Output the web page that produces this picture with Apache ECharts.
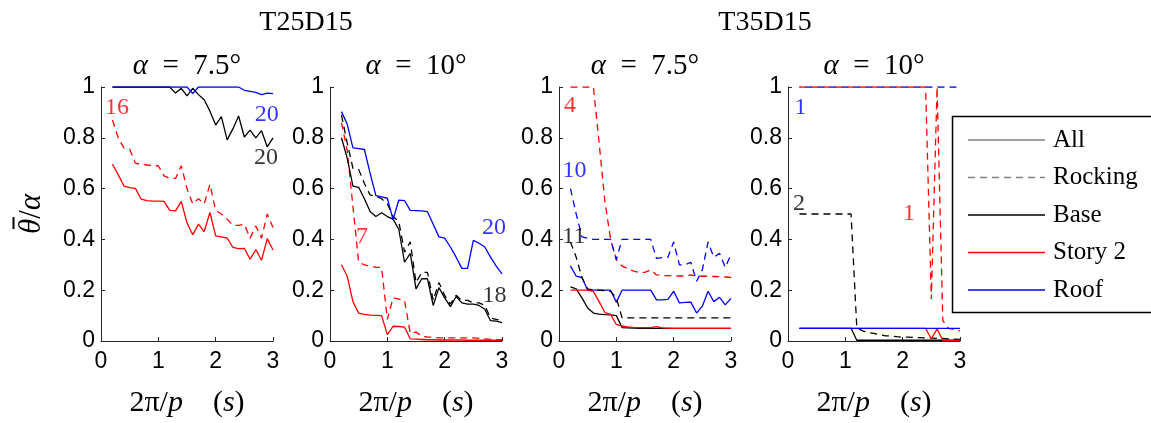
<!DOCTYPE html>
<html><head><meta charset="utf-8">
<script src="https://cdn.jsdelivr.net/npm/echarts@6/dist/echarts.min.js"></script>
<style>html,body{margin:0;padding:0;background:#fff}#c{width:1151px;height:423px}</style>
</head><body><div id="c"></div>
<script>
// ---------- DATA ----------
const periods = [0.2,0.3,0.4,0.5,0.6,0.7,0.8,0.9,1.0,1.1,1.2,1.3,1.4,1.5,1.6,1.7,1.8,1.9,2.0,2.1,2.2,2.3,2.4,2.5,2.6,2.7,2.8,2.9,3.0];
const xTicks = [0,1,2,3];
const yTicks = [0,0.2,0.4,0.6,0.8,1];
const groupTitles = ['T25D15','T35D15'];
const panelAlphas = ['7.5°','10°','7.5°','10°'];
const legendNames = ['All','Rocking','Base','Story 2','Roof'];

// T25D15, alpha = 7.5
const p1_roof_all   = [1,1,1,1,1,1,1,1,1,1,1,1,1,1,0.974,1,1,1,1,1,1,1,1,0.987,0.983,0.979,0.97,0.976,0.974];
const p1_base_all   = [1,1,1,1,1,1,1,1,1,1,1,0.976,0.995,0.965,0.995,0.97,0.95,0.905,0.85,0.883,0.792,0.835,0.886,0.803,0.83,0.80,0.828,0.764,0.80];
const p1_story2_all = [0.696,0.655,0.61,0.604,0.601,0.559,0.553,0.551,0.551,0.55,0.514,0.512,0.55,0.465,0.418,0.46,0.431,0.506,0.414,0.41,0.405,0.369,0.364,0.365,0.322,0.36,0.318,0.403,0.358];
const p1_story2_rock= [0.87,0.80,0.76,0.755,0.70,0.695,0.693,0.69,0.69,0.65,0.64,0.64,0.69,0.60,0.54,0.56,0.54,0.617,0.514,0.50,0.48,0.455,0.455,0.46,0.405,0.453,0.405,0.50,0.447];

// T25D15, alpha = 10
const p2_roof_all   = [0.903,0.854,0.76,0.757,0.754,0.66,0.572,0.567,0.562,0.478,0.555,0.553,0.514,0.513,0.512,0.509,0.46,0.41,0.405,0.37,0.33,0.286,0.286,0.396,0.385,0.37,0.33,0.295,0.264];
const p2_base_rock  = [0.89,0.78,0.68,0.675,0.62,0.575,0.57,0.56,0.54,0.49,0.47,0.35,0.39,0.23,0.27,0.27,0.16,0.23,0.18,0.145,0.18,0.16,0.16,0.15,0.15,0.14,0.09,0.085,0.08];
const p2_base_all   = [0.80,0.72,0.61,0.605,0.56,0.51,0.49,0.505,0.49,0.48,0.44,0.31,0.345,0.205,0.245,0.245,0.14,0.21,0.17,0.135,0.175,0.15,0.145,0.145,0.14,0.125,0.08,0.078,0.072];
const p2_story2_all = [0.30,0.255,0.155,0.11,0.105,0.102,0.101,0.10,0.025,0.058,0.057,0.055,0.008,0.007,0.006,0.005,0.005,0.004,0.004,0.004,0.004,0.004,0.003,0.003,0.003,0.003,0.003,0.003,0.003];
const p2_story2_rock= [0.86,0.75,0.53,0.31,0.30,0.295,0.29,0.29,0.085,0.17,0.165,0.16,0.03,0.035,0.02,0.015,0.015,0.012,0.012,0.012,0.012,0.012,0.012,0.012,0.01,0.008,0.006,0.005,0.005];

// T35D15, alpha = 7.5
const p3_story2_rock= [1,1,1,1,1,0.78,0.55,0.40,0.32,0.295,0.285,0.275,0.27,0.27,0.28,0.26,0.258,0.257,0.256,0.256,0.256,0.26,0.255,0.255,0.255,0.254,0.253,0.252,0.25];
const p3_roof_rock  = [0.6,0.5,0.41,0.405,0.40,0.40,0.40,0.40,0.32,0.40,0.40,0.40,0.40,0.40,0.40,0.325,0.328,0.33,0.39,0.30,0.30,0.31,0.235,0.28,0.39,0.33,0.345,0.29,0.34];
const p3_roof_all   = [0.296,0.255,0.25,0.2,0.2,0.2,0.2,0.2,0.153,0.2,0.2,0.2,0.2,0.2,0.2,0.162,0.162,0.164,0.196,0.15,0.152,0.153,0.11,0.137,0.196,0.155,0.172,0.142,0.168];
const p3_base_rock  = [0.39,0.33,0.25,0.205,0.2,0.2,0.198,0.195,0.17,0.091,0.091,0.091,0.091,0.091,0.091,0.091,0.091,0.091,0.091,0.091,0.091,0.091,0.091,0.091,0.091,0.091,0.091,0.091,0.091];
const p3_base_all   = [0.213,0.205,0.17,0.13,0.11,0.106,0.104,0.103,0.10,0.053,0.052,0.051,0.05,0.05,0.05,0.05,0.05,0.05,0.05,0.05,0.05,0.05,0.05,0.05,0.05,0.05,0.05,0.05,0.05];
const p3_story2_all = [0.2,0.2,0.2,0.2,0.195,0.155,0.112,0.105,0.065,0.059,0.056,0.054,0.053,0.053,0.053,0.057,0.052,0.051,0.05,0.05,0.05,0.05,0.05,0.05,0.05,0.05,0.05,0.05,0.05];

// T35D15, alpha = 10
const p4_roof_rock  = [1,1,1,1,1,1,1,1,1,1,1,1,1,1,1,1,1,1,1,1,1,1,1,1,1,1,1,1,1];
const p4_story2_rock= [1,1,1,1,1,1,1,1,1,1,1,1,1,1,1,1,1,1,1,1,1,1,1,0.165,1,0.08,0.05,0.045,0.04];
const p4_base_rock  = [0.5,0.5,0.5,0.5,0.5,0.5,0.5,0.5,0.5,0.5,0.052,0.04,0.033,0.03,0.025,0.02,0.02,0.017,0.015,0.015,0.014,0.013,0.012,0.011,0.01,0.01,0.008,0.007,0.006];
const p4_base_all   = [0.05,0.05,0.05,0.05,0.05,0.05,0.05,0.05,0.05,0.05,0.003,0.003,0.003,0.003,0.003,0.003,0.003,0.003,0.003,0.003,0.003,0.003,0.003,0.003,0.003,0.003,0.003,0.003,0.003];
const p4_story2_all = [0.05,0.05,0.05,0.05,0.05,0.05,0.05,0.05,0.05,0.05,0.05,0.05,0.05,0.05,0.05,0.05,0.05,0.05,0.05,0.05,0.05,0.05,0.05,0.008,0.048,0.002,0.002,0.002,0.002];
const p4_roof_all   = [0.05,0.05,0.05,0.05,0.05,0.05,0.05,0.05,0.05,0.05,0.05,0.05,0.05,0.05,0.05,0.05,0.05,0.05,0.05,0.05,0.05,0.05,0.05,0.05,0.05,0.05,0.05,0.05,0.05];

// annotations: [x, y, text, location]
const p1_notes = [[0.28,0.92,'16','story2'],[2.89,0.89,'20','roof'],[2.88,0.72,'20','base']];
const p2_notes = [[0.56,0.41,'7','story2'],[2.86,0.446,'20','roof'],[2.87,0.177,'18','base']];
const p3_notes = [[0.19,0.927,'4','story2'],[0.27,0.67,'10','roof'],[0.26,0.41,'11','base']];
const p4_notes = [[0.22,0.92,'1','roof'],[0.19,0.54,'2','base'],[2.11,0.50,'1','story2']];

// ---------- STYLE / LAYOUT ----------
const COLORS = {base:'#000000', story2:'#ff0000', roof:'#0000ff', gray:'#808080'};
const DASH = [7,5];
const LW = 1.3;
const SERIF = "'Liberation Serif','DejaVu Serif',serif";
const SANS = "'Liberation Sans',Arial,sans-serif";
const gridLeft = [101,330,559,788];
const gridTop = 87, gridW = 172, gridH = 260;
const groupTitleX = [306, 765];
const EN = '\u2002', EM = '\u2003';

const panels = [
  {lines:[['base',p1_base_all,false],['roof',p1_roof_all,false],['story2',p1_story2_rock,true],['story2',p1_story2_all,false]], notes:p1_notes},
  {lines:[['story2',p2_story2_rock,true],['story2',p2_story2_all,false],['base',p2_base_rock,true],['base',p2_base_all,false],['roof',p2_roof_all,false]], notes:p2_notes},
  {lines:[['story2',p3_story2_rock,true],['roof',p3_roof_rock,true],['roof',p3_roof_all,false],['base',p3_base_rock,true],['base',p3_base_all,false],['story2',p3_story2_all,false]], notes:p3_notes},
  {lines:[['roof',p4_roof_rock,true,6],['story2',p4_story2_rock,true],['base',p4_base_rock,true],['base',p4_base_all,false],['story2',p4_story2_all,false],['roof',p4_roof_all,false]], notes:p4_notes}
];

const richSerif = (fs) => ({
  r:{fontSize:fs, fontFamily:SERIF, fontStyle:'normal', color:'#000'},
  i:{fontSize:fs, fontFamily:SERIF, fontStyle:'italic', color:'#000'},
  sp:{fontSize:2, width:5, height:2, lineHeight:5, align:'left'},
  bar:{fontSize:2, width:12, height:2, lineHeight:5, align:'left', backgroundColor:'#000'}
});

const grids = [], xAxes = [], yAxes = [], series = [], titles = [];
const axisLine = {show:true, lineStyle:{color:'#262626', width:1}};
const axisTick = {show:true, inside:true, length:4, lineStyle:{color:'#262626', width:1}};

panels.forEach((p, i) => {
  grids.push({left:gridLeft[i], top:gridTop, width:gridW, height:gridH, containLabel:false});
  xAxes.push({type:'value', gridIndex:i, min:xTicks[0], max:xTicks[xTicks.length-1], interval:1,
    axisLine, axisTick, splitLine:{show:false},
    axisLabel:{fontSize:23, fontFamily:SANS, color:'#000', margin:9},
    name:'{r|2π/}{i|p}{r|' + EM + '(}{i|s}{r|)}', nameLocation:'middle', nameGap:47,
    nameTextStyle:{fontSize:30, fontFamily:SERIF, color:'#000', rich:richSerif(30)}
  });
  yAxes.push({type:'value', gridIndex:i, min:yTicks[0], max:yTicks[yTicks.length-1], interval:0.2,
    axisLine, axisTick, splitLine:{show:false},
    axisLabel:{fontSize:23, fontFamily:SANS, color:'#000', margin:6,
      formatter: v => (v === 0 || v === 1) ? String(v) : v.toFixed(1)},
    name: i === 0 ? '{sp| }{bar| }\n{i|θ}{r|/}{i|α}' : '', nameLocation:'middle', nameGap:54, nameRotate:90,
    nameTextStyle:{fontSize:31, fontFamily:SERIF, color:'#000', rich:richSerif(31)}
  });
  p.lines.forEach((ln, k) => {
    const [loc, arr, dashed, offset] = ln;
    series.push({type:'line', name:'p'+(i+1)+'_'+loc+(dashed?'_rock':'_all')+'_'+k,
      xAxisIndex:i, yAxisIndex:i, symbol:'none', silent:true,
      data: periods.map((x, j) => [x, arr[j]]),
      lineStyle:{color:COLORS[loc], width:LW, type: dashed ? DASH : 'solid', dashOffset: offset || 0}
    });
  });
  series.push({type:'scatter', name:'notes'+i, xAxisIndex:i, yAxisIndex:i, symbolSize:0, silent:true, z:5,
    data: p.notes.map(n => ({value:[n[0], n[1]], label:{color:COLORS[n[3]]}})),
    label:{show:true, position:'inside', fontSize:24, fontFamily:SERIF,
      formatter: prm => p.notes[prm.dataIndex][2]}
  });
  titles.push({text:'{i|α}{r|' + EN + '=' + EN + panelAlphas[i] + '}', left: gridLeft[i] + gridW/2, top: 52, textAlign:'center', padding:0,
    textStyle:{fontSize:29, fontFamily:SERIF, fontWeight:'normal', color:'#000', rich:richSerif(29)}});
});
groupTitles.forEach((t, g) => {
  titles.push({text:t, left:groupTitleX[g], top:9, textAlign:'center', padding:0,
    textStyle:{fontSize:28, fontFamily:SERIF, fontWeight:'normal', color:'#000'}});
});

// legend icons (plain line / dashed line drawn as thin bars)
const ICON_W = 77, ICON_H = 1.3;
function dashPath() {
  let d = '';
  for (let x = 0; x < ICON_W; x += DASH[0] + DASH[1]) {
    const w = Math.min(DASH[0], ICON_W - x);
    d += 'M' + x + ',0h' + w + 'v' + ICON_H + 'h' + (-w) + 'z';
  }
  return 'path://' + d;
}
const solidIcon = 'path://M0,0h' + ICON_W + 'v' + ICON_H + 'h-' + ICON_W + 'z';
const legendStyle = {'All':[COLORS.gray,false], 'Rocking':[COLORS.gray,true], 'Base':[COLORS.base,false], 'Story 2':[COLORS.story2,false], 'Roof':[COLORS.roof,false]};
legendNames.forEach(nm => {
  series.push({type:'line', name:nm, xAxisIndex:3, yAxisIndex:3, symbol:'none', data:[],
    itemStyle:{color:legendStyle[nm][0]}, lineStyle:{color:legendStyle[nm][0], width:LW}});
});

const chart = echarts.init(document.getElementById('c'), null, {renderer:'canvas'});
chart.setOption({
  animation:false,
  backgroundColor:'#fff',
  title: titles,
  grid: grids, xAxis: xAxes, yAxis: yAxes, series,
  legend:{data: legendNames.map(nm => ({name:nm, icon: legendStyle[nm][1] ? dashPath() : solidIcon})),
    orient:'vertical', left:968, top:127.5, padding:0, itemWidth:ICON_W, itemHeight:ICON_H, itemGap:12.5,
    selectedMode:false,
    itemStyle:{borderWidth:0},
    textStyle:{fontSize:25, fontFamily:SERIF, color:'#000', padding:[0,0,0,3]}},
  graphic:[{type:'rect', z:3, shape:{x:952.5, y:116.5, width:240, height:196}, style:{fill:'#fff', stroke:'#000', lineWidth:1.5}}]
});
</script></body></html>
